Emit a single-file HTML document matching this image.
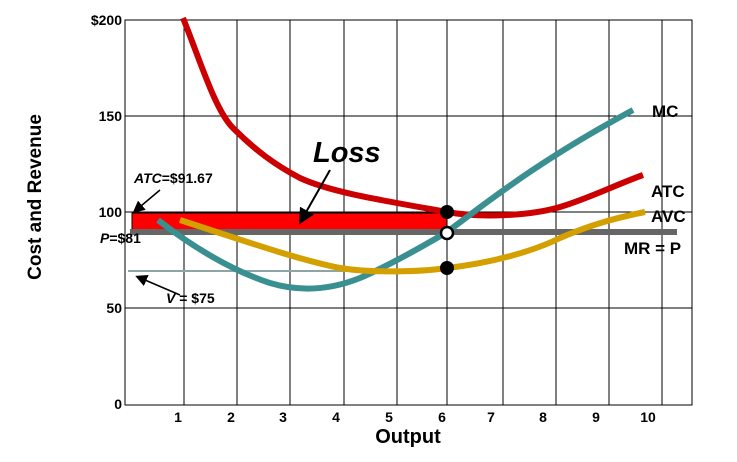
<!DOCTYPE html>
<html><head><style>body{margin:0;background:#fff}svg{display:block}text{font-family:"Liberation Sans",Arial,sans-serif;font-weight:bold}</style></head><body>
<svg width="737" height="462" viewBox="0 0 737 462">
<defs><marker id="ah" markerWidth="8" markerHeight="8" refX="6" refY="4" orient="auto"><path d="M0,0 L8,4 L0,8 Z" fill="#000"/></marker></defs>
<g stroke="#000" stroke-width="1">
<line x1="184" y1="20" x2="184" y2="405"/><line x1="237" y1="20" x2="237" y2="405"/><line x1="290" y1="20" x2="290" y2="405"/><line x1="344" y1="20" x2="344" y2="405"/><line x1="397" y1="20" x2="397" y2="405"/><line x1="447" y1="20" x2="447" y2="405"/><line x1="503" y1="20" x2="503" y2="405"/><line x1="556" y1="20" x2="556" y2="405"/><line x1="609" y1="20" x2="609" y2="405"/><line x1="662" y1="20" x2="662" y2="405"/>
<line x1="125" y1="116" x2="692" y2="116"/><line x1="125" y1="212" x2="692" y2="212"/><line x1="125" y1="308" x2="692" y2="308"/>
<rect x="125" y="20" width="567" height="385" fill="none"/>
</g>
<rect x="132" y="213" width="315" height="17" fill="#ff0000" stroke="#000" stroke-width="1"/>
<line x1="130" y1="232" x2="677" y2="232" stroke="#666" stroke-width="6"/>
<line x1="128" y1="271" x2="447" y2="271" stroke="#8fa5a5" stroke-width="2"/>
<path d="M183,18 C200,60 215,110 233,128 C255,150 275,165 300,178 C330,192 380,200 447,212 C480,218 530,216 560,207 C590,198 615,185 643,175" fill="none" stroke="#cc0000" stroke-width="6"/>
<path d="M158,220 C190,245 230,270 270,283 C300,292 330,290 360,278 C390,265 420,248 447,232 C490,200 540,160 633,110" fill="none" stroke="#3a9090" stroke-width="6"/>
<path d="M180,220 C250,243 300,260 340,268 C370,273 420,272 447,268 C500,262 540,248 560,238 C590,225 615,218 645,212" fill="none" stroke="#d4a000" stroke-width="6"/>
<circle cx="447" cy="212" r="7" fill="#000"/>
<circle cx="447" cy="233" r="6" fill="#fff" stroke="#000" stroke-width="2.5"/>
<circle cx="447" cy="268" r="7" fill="#000"/>
<line x1="330" y1="170" x2="301" y2="221" stroke="#000" stroke-width="2" marker-end="url(#ah)"/>
<line x1="160" y1="190" x2="135" y2="211" stroke="#000" stroke-width="1.5" marker-end="url(#ah)"/>
<line x1="180" y1="295" x2="138" y2="277" stroke="#000" stroke-width="1.5" marker-end="url(#ah)"/>
<text x="313" y="162" font-size="29" font-style="italic">Loss</text>
<text x="134" y="183" font-size="14"><tspan font-style="italic">ATC</tspan>=$91.67</text>
<text x="100" y="243" font-size="14"><tspan font-style="italic">P</tspan>=$81</text>
<text x="166" y="303" font-size="14"><tspan font-style="italic">V</tspan> = $75</text>
<text x="652" y="117" font-size="17">MC</text>
<text x="651" y="197" font-size="17">ATC</text>
<text x="651" y="222" font-size="17">AVC</text>
<text x="624" y="254" font-size="17">MR = P</text>
<g font-size="14" text-anchor="end"><text x="122" y="25">$200</text><text x="122" y="121">150</text><text x="122" y="217">100</text><text x="122" y="313">50</text><text x="122" y="409">0</text></g>
<g font-size="14" text-anchor="middle"><text x="178" y="422">1</text><text x="231" y="422">2</text><text x="283" y="422">3</text><text x="336" y="422">4</text><text x="389" y="422">5</text><text x="442" y="422">6</text><text x="491" y="422">7</text><text x="543" y="422">8</text><text x="596" y="422">9</text><text x="648" y="422">10</text></g>
<text x="408" y="443" font-size="20" text-anchor="middle">Output</text>
<text transform="translate(41,197) rotate(-90)" font-size="19" text-anchor="middle">Cost and Revenue</text>
</svg></body></html>
